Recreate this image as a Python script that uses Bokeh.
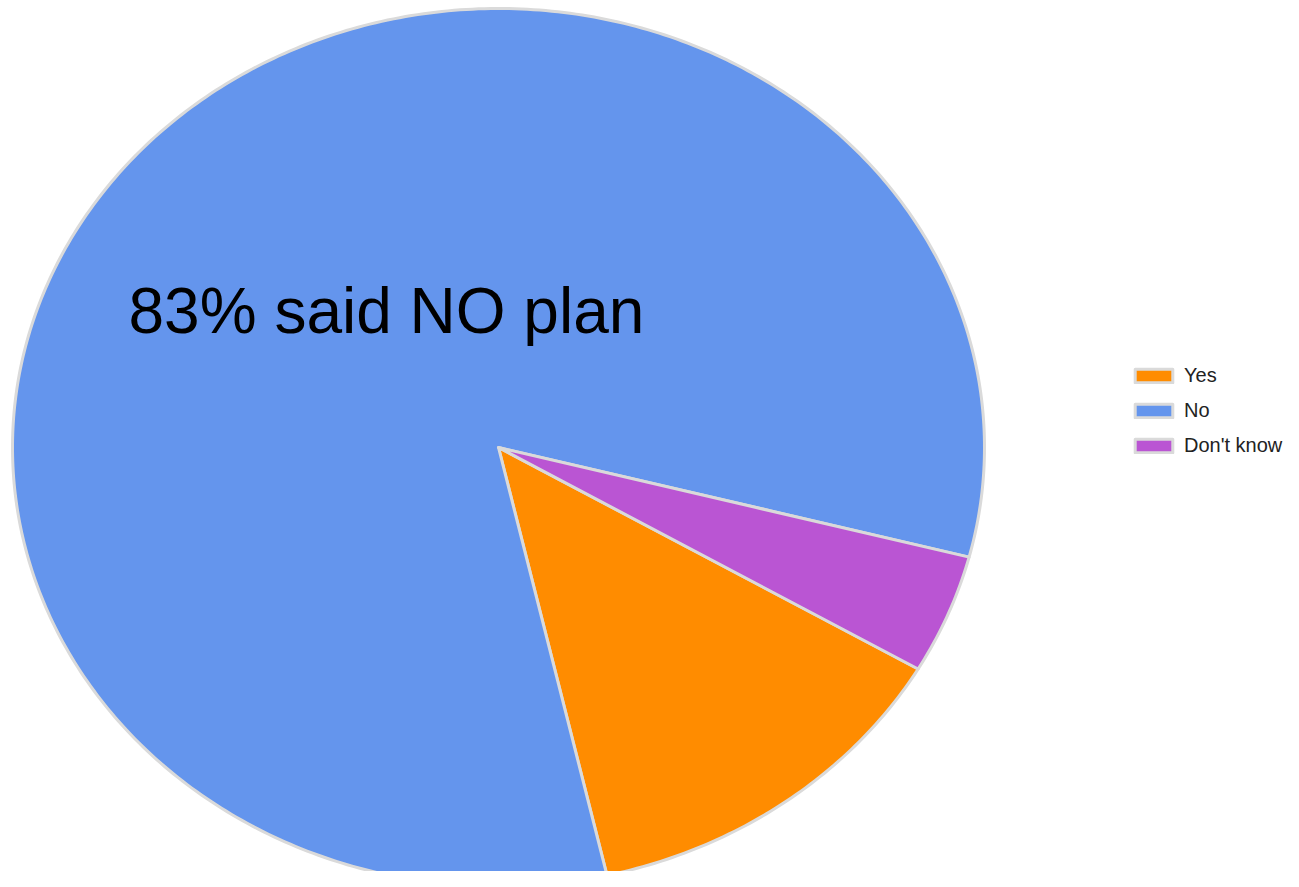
import numpy as np
from bokeh.plotting import figure
from bokeh.models import Range1d, Legend, LegendItem, Label, ColumnDataSource
from bokeh.embed import file_html
from bokeh.resources import INLINE

# ---- data ----
categories = ["Yes", "No", "Don't know"]
values = [13.0, 82.6, 4.4]
colors = ["#ff8c00", "#6495ed", "#ba55d3"]
annotation = "83% said NO plan"
start_angle_deg = -30.3  # first slice starts ~30 deg below 3 o'clock, going clockwise

W, H = 1283, 871
cx, cy = 498, 447      # ellipse centre in canvas px (from left / from top)
rx, ry = 486, 439      # ellipse radii in px

p = figure(width=W, height=H, output_backend="svg", toolbar_location=None,
           x_range=Range1d(-cx / rx, (W - cx) / rx),
           y_range=Range1d(-(H - cy) / ry, cy / ry),
           min_border=0)
p.axis.visible = False
p.grid.visible = False
p.outline_line_color = None
p.background_fill_color = "white"

total = float(sum(values))
xs, ys = [], []
a0 = np.deg2rad(start_angle_deg)
for v in values:
    sweep = 2 * np.pi * v / total
    t = np.linspace(a0, a0 - sweep, max(8, int(500 * v / total)))
    xs.append([0.0] + list(np.cos(t)))
    ys.append([0.0] + list(np.sin(t)))
    a0 -= sweep

src = ColumnDataSource(dict(xs=xs, ys=ys, color=colors, label=categories))
r = p.patches("xs", "ys", source=src, fill_color="color", line_color="#dadada",
              line_width=3, line_join="round")

items = [LegendItem(label=c, renderers=[r], index=i) for i, c in enumerate(categories)]
legend = Legend(items=items, location=(1130, 414), orientation="vertical",
                glyph_width=47, glyph_height=17, label_height=17, spacing=12,
                padding=0, margin=0, label_standoff=7,
                label_text_font="Liberation Sans", label_text_font_size="20px",
                label_text_color="#222222", border_line_color=None,
                background_fill_alpha=0)
p.add_layout(legend, "center")

p.add_layout(Label(x=128, y=H - 310, x_units="screen", y_units="screen",
                   text=annotation, text_font="Liberation Sans",
                   text_font_size="64px", text_color="black",
                   text_baseline="alphabetic"))

open("out.html", "w").write(file_html(p, INLINE))
